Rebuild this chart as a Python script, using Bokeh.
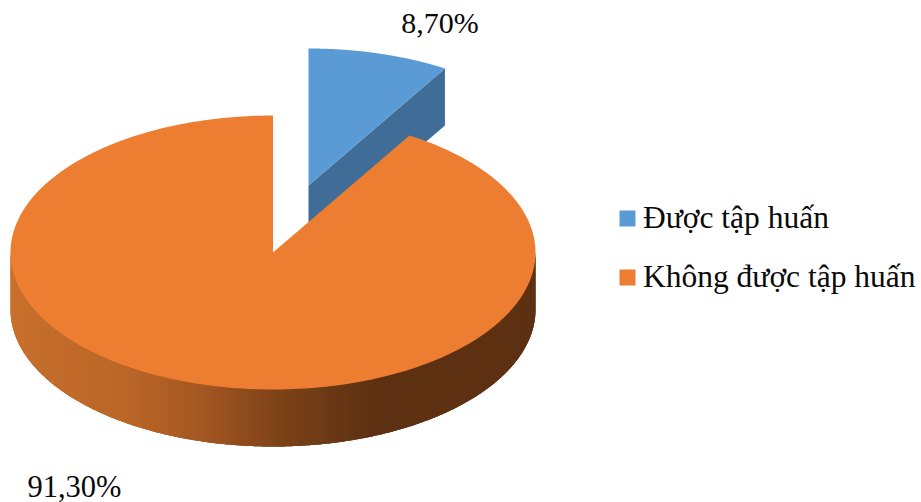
import numpy as np
from bokeh.embed import file_html
from bokeh.models import Legend, LegendItem
from bokeh.plotting import figure
from bokeh.resources import INLINE

# Survey shares, in percent
categories = ["Được tập huấn", "Không được tập huấn"]
shares = [8.70, 91.30]
top_colors = ["#5B9BD5", "#EC7D31"]
wall_color_blue = "#3F6D97"

# Pie geometry on the page
CX, CY = 272.5, 252.0
RX, RY = 262.5, 137.0
DEPTH = 57.0
EXPLODE_DX, EXPLODE_DY = 35.5, -67.0

# Shading of the orange rim from left to right
rim_x = [10, 130, 200, 280, 370, 535]
rim_rgb = [(200, 112, 44), (186, 101, 40), (164, 87, 34), (124, 66, 24), (94, 49, 19), (94, 49, 19)]


def rim_point(theta, cx=CX, cy=CY):
    """Point on the top ellipse; theta runs clockwise from twelve o'clock."""
    return cx + RX * np.sin(theta), cy - RY * np.cos(theta)


def sector(a0, a1, cx=CX, cy=CY, n=240):
    t = np.linspace(a0, a1, n)
    x, y = rim_point(t, cx, cy)
    return [cx, *x], [cy, *y]


p = figure(width=921, height=502, x_range=(0, 921), y_range=(502, 0),
           toolbar_location=None, output_backend="svg", min_border=0)
p.axis.visible = False
p.grid.visible = False
p.outline_line_color = None
p.background_fill_color = "white"

split = 2 * np.pi * shares[0] / sum(shares)

# Exploded blue slice: cut wall first, then its top
bx, by = CX + EXPLODE_DX, CY + EXPLODE_DY
ex, ey = rim_point(split, bx, by)
p.patch([bx, ex, ex, bx], [by, ey, ey + DEPTH, by + DEPTH],
        fill_color=wall_color_blue, line_color=None)
sx, sy = sector(0, split, bx, by)
blue = p.patch(sx, sy, fill_color=top_colors[0], line_color=None)

# Orange rim: overlapping strips drawn left to right, so no seams show between them
phi = np.linspace(np.pi, 0, 420)
strip_xs, strip_ys, strip_cols = [], [], []
for i in range(len(phi) - 3):
    px = CX + RX * np.cos(phi[i:i + 4])
    py = CY + RY * np.sin(phi[i:i + 4])
    rgb = [int(round(np.interp(px[0], rim_x, [c[k] for c in rim_rgb]))) for k in range(3)]
    strip_xs.append([*px, *px[::-1]])
    strip_ys.append([*(py - 2), *(py[::-1] + DEPTH)])
    strip_cols.append("#%02x%02x%02x" % tuple(rgb))
p.patches(strip_xs, strip_ys, fill_color=strip_cols, line_color=None)

# Orange top
ox, oy = sector(split, 2 * np.pi)
orange = p.patch(ox, oy, fill_color=top_colors[1], line_color=None)

# Percent labels
fmt = [f"{v:.2f}%".replace(".", ",") for v in shares]
p.text([439.5], [22], text=[fmt[0]], text_font_size="30px", text_font={"value": "Liberation Serif"},
       text_color="#0a0a0a", text_align="center", text_baseline="middle")
p.text([74], [486], text=[fmt[1]], text_font_size="30.5px", text_font={"value": "Liberation Serif"},
       text_color="#0a0a0a", text_align="center", text_baseline="middle")

# The key's swatches are drawn at 80% of the glyph box, so the box is 20px for a 16px square
legend = Legend(
    items=[LegendItem(label=categories[0], renderers=[blue]),
           LegendItem(label=categories[1], renderers=[orange])],
    location=(617, 207), orientation="vertical",
    glyph_width=20, glyph_height=20, label_standoff=6, spacing=23, padding=0, margin=0,
    border_line_color=None, background_fill_alpha=0,
    label_text_font="Liberation Serif", label_text_font_size="31.5px", label_text_color="#0a0a0a",
    label_height=32,
)
p.add_layout(legend)

open("out.html", "w").write(file_html(p, INLINE))
